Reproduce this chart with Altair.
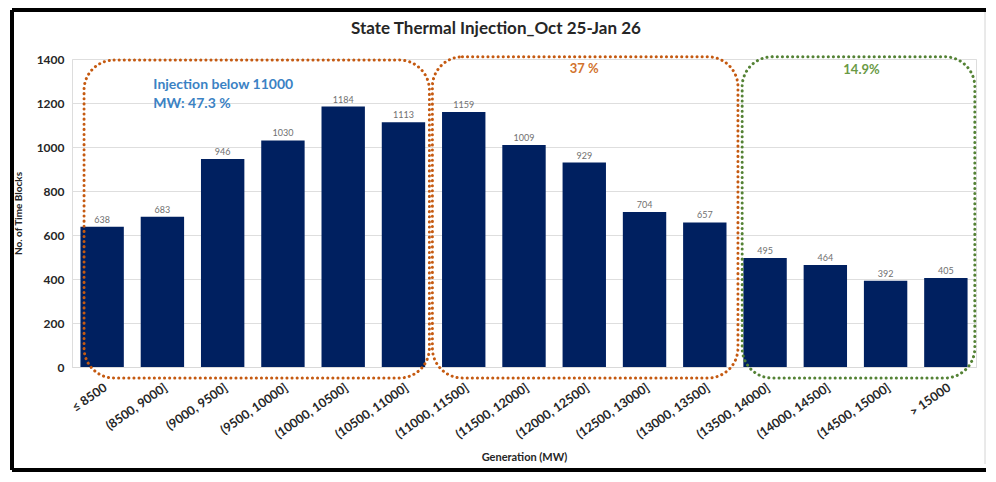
import altair as alt
import pandas as pd

# ---- data ----
categories = ["≤ 8500", "(8500, 9000]", "(9000, 9500]", "(9500, 10000]",
              "(10000, 10500]", "(10500, 11000]", "(11000, 11500]",
              "(11500, 12000]", "(12000, 12500]", "(12500, 13000]",
              "(13000, 13500]", "(13500, 14000]", "(14000, 14500]",
              "(14500, 15000]", "> 15000"]
counts = [638, 683, 946, 1030, 1184, 1113, 1159, 1009, 929, 704, 657,
          495, 464, 392, 405]

# annotation groups (in category-index units / count units)
group_start = [-0.3, 5.48, 10.62]
group_end = [5.43, 10.55, 14.48]
group_top = [1395, 1410, 1410]
group_bottom = [-50, -50, -50]
group_color = ["#C55A11", "#C55A11", "#548235"]

note_text = ["37 %", "14.9%"]
note_x = [8.0, 12.6]
note_y = [1355, 1350]
note_color = ["#D2732E", "#6A9A45"]

blue_note = ["Injection below 11000", "MW: 47.3 %"]
blue_x = [0.85, 0.85]
blue_y = [1283, 1195]

FONT = "Lato"
W, H = 904, 308

bars_df = pd.DataFrame({"cat": categories, "count": counts})
groups_df = pd.DataFrame({"x0": group_start, "x1": group_end,
                          "y0": group_bottom, "y1": group_top,
                          "color": group_color})
notes_df = pd.DataFrame({"t": note_text, "x": note_x, "y": note_y,
                         "c": note_color})
blue_df = pd.DataFrame({"t": blue_note, "x": blue_x, "y": blue_y})
one = pd.DataFrame({"a": [0]})

yscale = alt.Scale(domain=[0, 1400], nice=False)
xq = alt.Scale(domain=[-0.5, 14.5], nice=False, zero=False)

bars = alt.Chart(bars_df).mark_bar(color="#002060").encode(
    x=alt.X("cat:N", sort=categories,
            scale=alt.Scale(paddingInner=0.28, paddingOuter=0.14),
            axis=alt.Axis(title="Generation (MW)", labelAngle=325,
                          labelFont=FONT, labelFontSize=12.5,
                          labelFontWeight="bold", labelColor="#262626",
                          labelPadding=14, ticks=False, domainColor="#d9d9d9",
                          titleFont=FONT, titleFontSize=11,
                          titleFontWeight="bold", titleColor="#262626",
                          titlePadding=11)),
    y=alt.Y("count:Q", scale=yscale,
            axis=alt.Axis(title="No. of Time Blocks", values=list(range(0, 1401, 200)),
                          format="d",
                          labelFont=FONT, labelFontSize=12,
                          labelFontWeight="bold", labelColor="#262626",
                          labelPadding=8, ticks=False, domain=False,
                          gridColor="#dedede", titleFont=FONT,
                          titleFontSize=10, titleFontWeight="bold",
                          titleColor="#262626", titlePadding=13)),
)

values = alt.Chart(bars_df).mark_text(font=FONT, fontSize=9, color="#707070",
                                      dy=-7).encode(
    x=alt.X("cat:N", sort=categories),
    y=alt.Y("count:Q", scale=yscale),
    text="count:Q",
)

bar_layer = alt.layer(bars, values)

boxes = alt.Chart(groups_df).mark_rect(
    fillOpacity=0, strokeWidth=3, strokeDash=[0.1, 5], strokeCap="round",
    cornerRadius=30).encode(
    x=alt.X("x0:Q", scale=xq, axis=None),
    x2="x1:Q",
    y=alt.Y("y0:Q", scale=yscale),
    y2="y1:Q",
    stroke=alt.Stroke("color:N", scale=None),
)

notes = alt.Chart(notes_df).mark_text(font=FONT, fontSize=13,
                                      fontWeight="bold").encode(
    x=alt.X("x:Q", scale=xq, axis=None),
    y=alt.Y("y:Q", scale=yscale),
    text="t:N",
    color=alt.Color("c:N", scale=None),
)

blue = alt.Chart(blue_df).mark_text(font=FONT, fontSize=14, fontWeight="bold",
                                    align="left", color="#3B82C4").encode(
    x=alt.X("x:Q", scale=xq, axis=None),
    y=alt.Y("y:Q", scale=yscale),
    text="t:N",
)

# screenshot frame (decoration): top, left and bottom black edges,
# and the faint right edge of the chart area
frame_top = alt.Chart(one).mark_rule(color="black", strokeWidth=4).encode(
    x=alt.value(-60), x2=alt.value(914), y=alt.value(-49))
frame_left = alt.Chart(one).mark_rule(color="black", strokeWidth=4).encode(
    x=alt.value(-60), y=alt.value(-49), y2=alt.value(411))
frame_bottom = alt.Chart(one).mark_rule(color="black", strokeWidth=4).encode(
    x=alt.value(-60), x2=alt.value(914), y=alt.value(411))
area_right = alt.Chart(one).mark_rule(color="#d4d4d4", strokeWidth=1).encode(
    x=alt.value(913), y=alt.value(-47), y2=alt.value(405))

ann_layer = alt.layer(boxes, notes, blue, area_right, frame_top, frame_left,
                      frame_bottom)

chart = alt.layer(bar_layer, ann_layer).resolve_scale(
    x="independent"
).properties(
    width=W, height=H,
    padding={"left": 2, "top": 0, "right": 0, "bottom": 0},
    title=alt.TitleParams("State Thermal Injection_Oct 25-Jan 26",
                          font=FONT, fontSize=17, fontWeight="bold",
                          color="#262626", anchor="middle", frame="group",
                          dx=-28, offset=-30),
).configure_view(stroke=None).configure(background="white")

chart.save("out.html", embed_options={"renderer": "svg", "actions": False})
